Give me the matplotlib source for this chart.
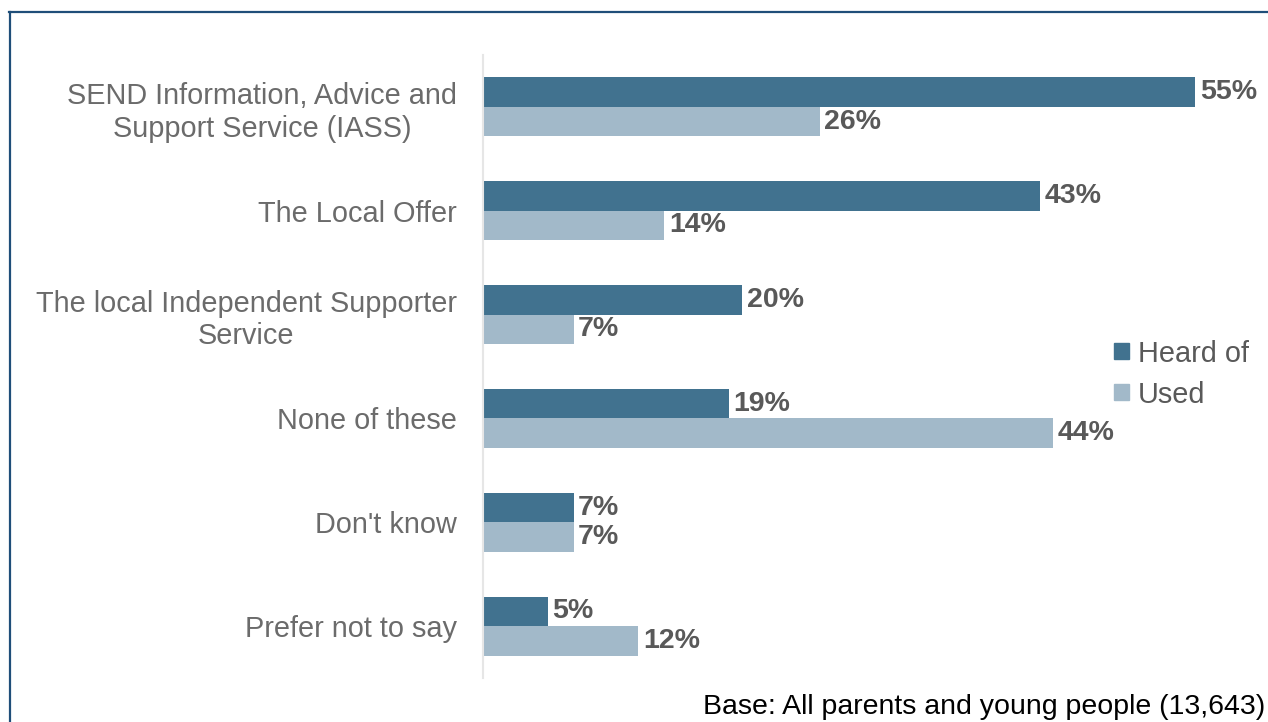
import matplotlib.pyplot as plt
from matplotlib.lines import Line2D
from matplotlib.patches import Patch
import numpy as np

plt.rcParams['font.family'] = ['Liberation Sans', 'DejaVu Sans']

# data
categories = ['SEND Information, Advice and\nSupport Service (IASS)',
              'The Local Offer',
              'The local Independent Supporter\nService',
              'None of these',
              "Don't know",
              'Prefer not to say']
heard_of = [55, 43, 20, 19, 7, 5]
used = [26, 14, 7, 44, 7, 12]
series_names = ['Heard of', 'Used']

dark = '#41728f'
light = '#a2b9c9'
grey = '#595959'

fig = plt.figure(figsize=(12.68, 7.22), dpi=100)
ax = fig.add_axes([483 / 1268, 1 - 678 / 722, (1260 - 483) / 1268, (678 - 55) / 722])

y = np.arange(len(categories))
h = 0.284
ax.barh(y - h / 2, heard_of, height=h, color=dark, label=series_names[0])
ax.barh(y + h / 2, used, height=h, color=light, label=series_names[1])

for i in range(len(categories)):
    ax.text(heard_of[i] + 0.35, y[i] - h / 2, f'{heard_of[i]}%', va='center', ha='left',
            fontsize=20.5, fontweight='bold', color=grey)
    ax.text(used[i] + 0.35, y[i] + h / 2, f'{used[i]}%', va='center', ha='left',
            fontsize=20.5, fontweight='bold', color=grey)

ax.set_xlim(0, 60)
ax.set_ylim(len(categories) - 0.5, -0.5)
ax.set_yticks(y)
ax.set_yticklabels(categories, fontsize=20.8, color='#6b6b6b', linespacing=1.22,
                   multialignment='center')
ax.tick_params(axis='y', length=0, pad=18.8)
ax.set_xticks([])
for s in ['top', 'right', 'bottom']:
    ax.spines[s].set_visible(False)
ax.spines['left'].set_color('#e6e6e6')
ax.spines['left'].set_linewidth(1.5)

handles = [Patch(color=dark), Patch(color=light)]
leg = fig.legend(handles, series_names, loc='center left', bbox_to_anchor=(1100 / 1268, 1 - 374 / 722),
                 frameon=False, fontsize=20.8, handlelength=0.5, handleheight=0.5,
                 handletextpad=0.3, labelspacing=0.45, borderpad=0)
for t in leg.get_texts():
    t.set_color(grey)

fig.text(1265 / 1268, 1 - 707 / 722, 'Base: All parents and young people (13,643)', ha='right',
         va='center', fontsize=20.5, color='black')

# frame lines
fig.add_artist(Line2D([9.5 / 1268, 9.5 / 1268], [0, 1 - 12 / 722], color='#1f4e79', lw=1.6,
                      transform=fig.transFigure))
fig.add_artist(Line2D([9 / 1268, 1], [1 - 12 / 722, 1 - 12 / 722], color='#1f4e79', lw=1.6,
                      transform=fig.transFigure))

fig.savefig('out.png', dpi=100)
